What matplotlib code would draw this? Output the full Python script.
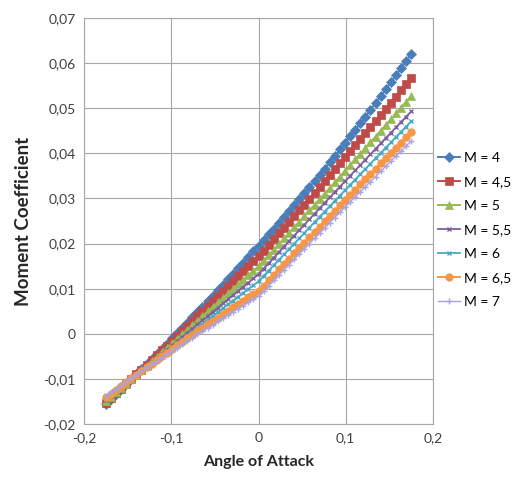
import numpy as np
import matplotlib
matplotlib.use('Agg')
import matplotlib.pyplot as plt

# angle of attack [rad], -10 .. 10 deg
alpha = [-0.1750, -0.1692, -0.1633, -0.1575, -0.1517, -0.1458, -0.1400, -0.1342, -0.1283, -0.1225,
         -0.1167, -0.1108, -0.1050, -0.0992, -0.0933, -0.0875, -0.0817, -0.0758, -0.0700, -0.0642,
         -0.0583, -0.0525, -0.0467, -0.0408, -0.0350, -0.0292, -0.0233, -0.0175, -0.0117, -0.0058,
         0.0000,
         0.0058, 0.0117, 0.0175, 0.0233, 0.0292, 0.0350, 0.0408, 0.0467, 0.0525, 0.0583,
         0.0642, 0.0700, 0.0758, 0.0817, 0.0875, 0.0933, 0.0992, 0.1050, 0.1108, 0.1167,
         0.1225, 0.1283, 0.1342, 0.1400, 0.1458, 0.1517, 0.1575, 0.1633, 0.1692, 0.1750]

# moment coefficient, in units of 1e-4
cm_m4 = [-155.0, -144.3, -133.5, -122.6, -111.6, -100.6, -89.6, -78.5, -67.3, -56.0,
         -44.7, -33.3, -21.9, -10.4, 1.2, 12.9, 24.5, 36.3, 48.1, 60.0,
         72.0, 84.0, 96.1, 108.2, 120.4, 132.7, 145.0, 157.4, 169.9, 182.4,
         195.0,
         207.5, 220.1, 232.8, 245.6, 258.5, 271.6, 284.8, 298.1, 311.5, 325.0,
         338.6, 352.4, 366.3, 380.3, 394.4, 408.6, 422.9, 437.4, 452.0, 466.7,
         481.5, 496.4, 511.4, 526.6, 541.9, 557.3, 572.8, 588.4, 604.1, 620.0]
cm_m45 = [-153.0, -142.6, -132.2, -121.7, -111.2, -100.7, -90.1, -79.6, -69.0, -58.3,
          -47.6, -37.0, -26.2, -15.5, -4.7, 6.1, 17.0, 27.9, 38.8, 49.7,
          60.7, 71.7, 82.7, 93.8, 104.9, 116.0, 127.1, 138.3, 149.5, 160.7,
          172.0,
          184.5, 197.1, 209.8, 222.4, 235.2, 247.9, 260.7, 273.6, 286.5, 299.4,
          312.4, 325.4, 338.4, 351.5, 364.7, 377.9, 391.1, 404.4, 417.7, 431.1,
          444.5, 457.9, 471.4, 484.9, 498.5, 512.1, 525.8, 539.5, 553.2, 567.0]
cm_m5 = [-150.0, -140.1, -130.1, -120.2, -110.3, -100.3, -90.4, -80.4, -70.5, -60.5,
         -50.5, -40.5, -30.6, -20.6, -10.6, -0.6, 9.4, 19.4, 29.4, 39.5,
         49.5, 59.5, 69.5, 79.6, 89.6, 99.7, 109.7, 119.8, 129.9, 139.9,
         150.0,
         162.2, 174.5, 186.8, 199.1, 211.5, 223.8, 236.2, 248.6, 261.0, 273.5,
         285.9, 298.4, 310.9, 323.5, 336.0, 348.6, 361.2, 373.8, 386.5, 399.1,
         411.8, 424.5, 437.3, 450.0, 462.8, 475.6, 488.4, 501.3, 514.1, 527.0]
cm_m55 = [-147.0, -137.6, -128.3, -118.9, -109.6, -100.3, -90.9, -81.6, -72.3, -62.9,
          -53.6, -44.3, -35.0, -25.7, -16.4, -7.1, 2.2, 11.5, 20.8, 30.1,
          39.4, 48.7, 57.9, 67.2, 76.5, 85.7, 95.0, 104.3, 113.5, 122.8,
          132.0,
          144.3, 156.5, 168.7, 180.9, 193.1, 205.3, 217.5, 229.6, 241.8, 253.9,
          266.0, 278.1, 290.2, 302.2, 314.3, 326.3, 338.3, 350.3, 362.3, 374.2,
          386.2, 398.1, 410.0, 421.9, 433.8, 445.7, 457.5, 469.4, 481.2, 493.0]
cm_m6 = [-144.0, -135.1, -126.3, -117.4, -108.6, -99.8, -91.0, -82.2, -73.4, -64.7,
         -55.9, -47.2, -38.5, -29.8, -21.1, -12.4, -3.7, 4.9, 13.5, 22.2,
         30.8, 39.3, 47.9, 56.5, 65.0, 73.6, 82.1, 90.6, 99.1, 107.5,
         116.0,
         128.0, 140.0, 151.9, 163.9, 175.8, 187.7, 199.7, 211.6, 223.5, 235.4,
         247.3, 259.1, 271.0, 282.8, 294.7, 306.5, 318.3, 330.1, 341.9, 353.7,
         365.5, 377.2, 389.0, 400.7, 412.5, 424.2, 435.9, 447.6, 459.3, 471.0]
cm_m65 = [-141.0, -132.5, -124.0, -115.6, -107.2, -98.9, -90.6, -82.4, -74.2, -66.0,
          -57.9, -49.9, -41.8, -33.9, -25.9, -18.0, -10.2, -2.4, 5.4, 13.1,
          20.7, 28.4, 36.0, 43.5, 51.0, 58.4, 65.8, 73.2, 80.5, 87.8,
          95.0,
          107.0, 118.9, 130.9, 142.8, 154.7, 166.6, 178.5, 190.3, 202.2, 214.0,
          225.8, 237.6, 249.4, 261.2, 272.9, 284.6, 296.3, 308.0, 319.7, 331.4,
          343.0, 354.6, 366.2, 377.8, 389.4, 400.9, 412.5, 424.0, 435.5, 447.0]
cm_m7 = [-138.0, -130.1, -122.2, -114.3, -106.5, -98.7, -91.0, -83.3, -75.6, -68.0,
         -60.4, -52.9, -45.4, -37.9, -30.5, -23.1, -15.8, -8.5, -1.2, 6.0,
         13.2, 20.4, 27.5, 34.6, 41.6, 48.6, 55.6, 62.5, 69.4, 76.2,
         83.0,
         94.8, 106.6, 118.3, 130.0, 141.7, 153.4, 165.0, 176.7, 188.3, 199.9,
         211.4, 223.0, 234.5, 246.0, 257.5, 268.9, 280.4, 291.8, 303.2, 314.5,
         325.9, 337.2, 348.5, 359.8, 371.0, 382.3, 393.5, 404.7, 415.9, 427.0]

labels = ['M = 4', 'M = 4,5', 'M = 5', 'M = 5,5', 'M = 6', 'M = 6,5', 'M = 7']

x_ticks = [-0.2, -0.1, 0.0, 0.1, 0.2]
x_tick_labels = ['-0,2', '-0,1', '0', '0,1', '0,2']
y_ticks = [-0.02, -0.01, 0.0, 0.01, 0.02, 0.03, 0.04, 0.05, 0.06, 0.07]
y_tick_labels = ['-0,02', '-0,01', '0', '0,01', '0,02', '0,03', '0,04', '0,05', '0,06', '0,07']

plt.rcParams['font.family'] = ['Lato', 'DejaVu Sans']

# colour, marker, marker size, line width
styles = [
    ('#4a7ebb', 'D', 4.6, 1.4),
    ('#be4b48', 's', 5.6, 1.4),
    ('#98b954', '^', 5.6, 1.4),
    ('#7d60a0', 'x', 3.5, 1.3),
    ('#46aac5', 'x', 3.5, 1.3),
    ('#f79646', 'o', 5.4, 1.4),
    ('#a5a5e6', '+', 4.0, 1.0),
]

fig = plt.figure(figsize=(5.26, 4.79), dpi=100)
ax = fig.add_axes([84 / 526, 1 - 424 / 479, (433 - 84) / 526, (424 - 18) / 479])

x = np.array(alpha)
series = [cm_m4, cm_m45, cm_m5, cm_m55, cm_m6, cm_m65, cm_m7]
for cm, lab, (col, mk, ms, lw) in zip(series, labels, styles):
    ax.plot(x, np.array(cm) * 1e-4, color=col, marker=mk, markersize=ms,
            linewidth=lw, markeredgewidth=1.0 if mk in ('x', '+') else 0.5,
            markeredgecolor=col, label=lab)

ax.set_xlim(-0.2, 0.2)
ax.set_ylim(-0.02, 0.07)
ax.set_xticks(x_ticks)
ax.set_xticklabels(x_tick_labels)
ax.set_yticks(y_ticks)
ax.set_yticklabels(y_tick_labels)
ax.tick_params(length=0, labelsize=10, colors='#404040', pad=6)
ax.grid(True, color='#a6a6a6', linewidth=0.8)
ax.set_axisbelow(True)
for sp in ax.spines.values():
    sp.set_color('#a6a6a6')
    sp.set_linewidth(0.8)

ax.set_xlabel('Angle of Attack', fontsize=11.5, fontweight='bold', color='#262626', labelpad=8)
ax.set_ylabel('Moment Coefficient', fontsize=13.5, fontweight='bold', color='#262626', labelpad=8)

ax.legend(loc='center left', bbox_to_anchor=(438 / 526, 1 - 230 / 479),
          bbox_transform=fig.transFigure, frameon=False, fontsize=10, borderpad=0,
          borderaxespad=0, handlelength=1.6, handletextpad=0.3, labelspacing=0.86,
          numpoints=1)

fig.savefig('out.png', dpi=100)
